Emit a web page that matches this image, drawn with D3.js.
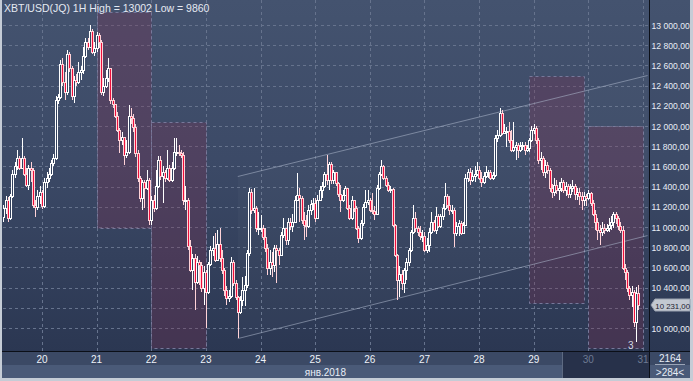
<!DOCTYPE html>
<html><head><meta charset="utf-8">
<script src="https://cdn.jsdelivr.net/npm/d3@7"></script>
<style>html,body{margin:0;padding:0;background:#c5ccd6;overflow:hidden}svg{display:block}</style>
</head><body>
<svg id="c" width="693" height="381"></svg>
<script>
// ---------- DATA ----------
const titleText = "XBT/USD(JQ) 1H High = 13002 Low = 9860";
const firstBarTime = Date.UTC(2018, 0, 19, 7);   // hourly bars
const firstOpen = 11102;
const closes = [
11191,11270,11092,11310,11527,11607,11686,11587,11686,11527,
11419,11587,11567,11220,11201,11310,11349,11211,11448,11488,
11527,11636,11686,12260,12290,12616,12438,12339,12715,12577,
12300,12458,12438,12537,12557,12696,12834,12785,12943,12735,
12775,12903,12834,12339,12399,12478,12577,12260,12220,12102,
11963,11864,11894,11716,11745,12102,12082,11993,11735,11488,
11290,11448,11389,11468,11072,11270,11191,11409,11666,11508,
11547,11488,11587,11468,11587,11745,11745,11735,11716,11270,
11270,10815,10577,10696,10458,10656,10627,10399,10557,10359,
10636,10775,10795,10676,10834,10696,10577,10379,10300,10320,
10656,10448,10310,10161,10280,10379,10429,10745,11349,11171,
11191,10993,10993,10993,10904,10795,10597,10656,10627,10795,
10775,10726,10924,10993,10874,11052,11013,11052,11270,11320,
11290,11072,11023,11013,11171,11230,11240,11092,11270,11369,
11409,11527,11468,11626,11468,11547,11438,11329,11270,11320,
11389,11191,11092,11270,11191,10993,10894,11042,11201,11250,
11270,11171,11161,11131,11389,11527,11607,11488,11419,11369,
11379,11023,10726,10478,10537,10448,10577,10656,10775,10953,
11092,10993,10953,10914,10914,10775,10825,10953,11052,10973,
11112,11013,11112,11191,11310,11220,11171,11171,10943,11013,
11042,10943,11023,11488,11547,11468,11508,11527,11567,11488,
11448,11508,11547,11547,11488,11518,11884,11914,12131,11933,
11953,11953,11864,11765,11795,11815,11765,11805,11815,11765,
11785,11864,11963,11983,11864,11666,11686,11547,11617,11567,
11389,11349,11419,11369,11389,11448,11369,11409,11329,11389,
11409,11329,11349,11310,11270,11310,11290,11339,11240,11131,
11052,10973,10953,10993,10973,10993,11023,11052,11131,11092,
11013,10973,10597,10557,10399,10330,10359,10062,10349,10231];
const highs = [
11220,11310,11300,11329,11567,11646,11765,11706,11884,11706,
11587,11617,11646,11587,11270,11369,11409,11369,11488,11547,
11587,11666,11725,12300,12319,12656,12676,12537,12755,12735,
12597,12498,12517,12636,12597,12785,12874,12874,13002,12963,
12834,12933,12923,12854,12478,12557,12676,12379,12280,12220,
12141,11983,11943,11884,11864,12210,12181,12121,12022,11765,
11508,11468,11468,11567,11488,11310,11320,11567,11706,11706,
11607,11567,11765,11617,11646,11884,11884,11815,11765,11745,
11409,11290,10874,10735,10735,10716,10676,10656,10617,10577,
10656,10815,10914,10943,10973,10993,10775,10597,10419,10379,
10706,10676,10478,10320,10320,10508,10518,10775,11389,11379,
11389,11211,11151,11122,11023,10993,10834,10775,10755,10825,
10825,10795,10953,11092,10993,11092,11092,11131,11310,11537,
11389,11310,11151,11122,11220,11270,11290,11290,11320,11409,
11448,11547,11716,11646,11646,11567,11547,11448,11419,11369,
11409,11389,11220,11310,11250,11211,11013,11072,11230,11369,
11369,11290,11339,11211,11419,11547,11666,11617,11508,11448,
11409,11389,11032,10735,10617,10577,10597,10696,10795,10973,
11220,11151,11013,11013,10973,10953,10894,10993,11151,11072,
11201,11131,11131,11230,11438,11329,11310,11220,11191,11052,
11072,11062,11052,11527,11577,11587,11567,11607,11646,11607,
11547,11547,11607,11567,11567,11547,11914,11963,12181,12161,
12022,11993,12042,11963,12042,11844,11834,11844,11844,11844,
11815,11884,12003,12022,12003,11884,11745,11706,11666,11646,
11587,11428,11488,11468,11448,11488,11468,11448,11428,11428,
11468,11428,11389,11389,11349,11349,11329,11369,11349,11270,
11171,11092,11023,11052,11032,11032,11092,11112,11151,11151,
11112,11052,11013,10636,10577,10419,10419,10379,10409,10429];
const lows = [
11052,11131,11052,11072,11290,11488,11567,11567,11577,11508,
11399,11369,11448,11191,11102,11171,11230,11181,11191,11389,
11448,11508,11607,11666,12220,12270,12399,12260,12310,12537,
12260,12230,12399,12418,12458,12517,12676,12755,12775,12715,
12696,12735,12775,12310,12300,12379,12438,12220,12181,12082,
11943,11735,11815,11617,11686,11725,12022,11943,11696,11448,
11250,11171,11191,11369,11023,11023,11151,11171,11389,11468,
11240,11448,11468,11448,11448,11567,11706,11706,11686,11220,
11171,10775,10557,10379,10181,10438,10429,10359,10230,10003,
10339,10617,10716,10656,10716,10656,10537,10320,10230,10260,
10300,10419,10280,9904,10141,10221,10221,10399,10716,11131,
11141,10953,10924,10953,10874,10755,10528,10528,10508,10557,
10448,10627,10716,10894,10825,10825,10973,10953,11052,11270,
11052,11032,10874,10904,10993,11122,11171,11052,11092,11270,
11290,11389,11419,11369,11428,11428,11409,11300,11151,11250,
11310,11171,11072,11072,11151,10973,10844,10874,11013,11211,
11220,11151,11131,11072,11122,11369,11508,11468,11399,11349,
11339,11003,10706,10280,10310,10379,10349,10478,10617,10755,
10933,10953,10914,10874,10854,10755,10745,10755,10933,10953,
10933,10993,10993,11072,11171,11191,11122,11131,10805,10914,
10914,10924,10933,11013,11448,11419,11448,11448,11508,11468,
11399,11428,11488,11488,11468,11468,11498,11844,11894,11914,
11923,11795,11834,11745,11745,11666,11686,11745,11765,11716,
11745,11745,11844,11923,11824,11626,11567,11508,11488,11527,
11349,11290,11310,11329,11270,11349,11339,11310,11290,11290,
11349,11270,11270,11220,11171,11211,11211,11270,11211,11112,
10973,10874,10825,10914,10933,10953,10953,10973,10993,11032,
10973,10943,10577,10478,10359,10280,10211,10013,9860,10181];
const opens = [firstOpen].concat(closes.slice(0, -1));

const dayTicks = [20,21,22,23,24,25,26,27,28,29,30,31];
const priceTicks = [10000,10200,10400,10600,10800,11000,11200,11400,11600,11800,12000,12200,12400,12600,12800,13000];
const monthLabel = "янв.2018";

// highlighted zones
const zoneStart = ["2018-01-21T00:00Z","2018-01-22T00:00Z","2018-01-28T22:00Z","2018-01-30T00:00Z"];
const zoneEnd   = ["2018-01-22T00:00Z","2018-01-23T00:00Z","2018-01-29T22:00Z","2018-01-31T00:00Z"];
const zoneHigh  = [13130,12040,12500,12000];
const zoneLow   = [10990,9800,10250,9800];

// trend channel
const channelTime  = ["2018-01-23T14:00Z","2018-01-31T02:00Z"];
const channelUpper = [11500,12500];
const channelLower = [9895,10915];

const lastPrice = 10231;
const barsTotal = "2164";
const barsVisible = ">284<";
const cornerMark = "3";

// ---------- DRAW ----------
const svg = d3.select("#c");
const FONT = "'Liberation Sans', Arial, sans-serif";
const L = 3, R = 649, T = 0, B = 351, RR = 690, BB = 378;

const x = d3.scaleUtc().domain([new Date(Date.UTC(2018,0,20)), new Date(Date.UTC(2018,0,31))]).range([42, 643]);
const y = d3.scaleLinear().domain([10000, 13000]).range([328, 25]);
const tOf = i => new Date(firstBarTime + i * 3600000);
const px = i => Math.round(x(tOf(i)));
const fmt = v => d3.format(",.2f")(v).replace(/,/g, " ").replace(".", ",");

const defs = svg.append("defs");
const g = defs.append("linearGradient").attr("id","bg").attr("gradientUnits","userSpaceOnUse")
  .attr("x1",0).attr("y1",0).attr("x2",0).attr("y2",B);
[[0,"#44536f"],[0.45,"#3c4a67"],[1,"#2b3752"]].forEach(s=>g.append("stop").attr("offset",s[0]).attr("stop-color",s[1]));
defs.append("clipPath").attr("id","pc").append("rect").attr("x",L).attr("y",T).attr("width",R-L).attr("height",B-T);

// frame & panels
svg.append("rect").attr("width",693).attr("height",381).attr("fill","#c5ccd6");
svg.append("rect").attr("x",2).attr("y",0).attr("width",RR-2).attr("height",B).attr("fill","url(#bg)");
svg.append("rect").attr("x",2).attr("y",B).attr("width",RR-2).attr("height",14).attr("fill","#3b4965");
svg.append("rect").attr("x",2).attr("y",B+14).attr("width",RR-2).attr("height",BB-B-14).attr("fill","#4a5a78");
svg.append("rect").attr("x",562).attr("y",B).attr("width",R-562).attr("height",BB-B).attr("fill","#27314a");
svg.append("line").attr("x1",562.5).attr("x2",562.5).attr("y1",B).attr("y2",BB).attr("stroke","#5d6a82");

const plot = svg.append("g").attr("clip-path","url(#pc)");

// grid
plot.selectAll(".hg").data(priceTicks).join("line")
  .attr("x1",L).attr("x2",R).attr("y1",d=>Math.round(y(d))+0.5).attr("y2",d=>Math.round(y(d))+0.5)
  .attr("stroke","#66738d").attr("stroke-dasharray","3,3");
plot.selectAll(".vg").data(dayTicks).join("line")
  .attr("y1",T).attr("y2",B).attr("x1",d=>Math.round(x(new Date(Date.UTC(2018,0,d))))+0.5)
  .attr("x2",d=>Math.round(x(new Date(Date.UTC(2018,0,d))))+0.5)
  .attr("stroke","#66738d").attr("stroke-dasharray","3,3");

// zones
plot.selectAll(".zone").data(zoneStart.map((s,i)=>i)).join("rect")
  .attr("x",i=>Math.round(x(new Date(zoneStart[i])))+0.5)
  .attr("width",i=>Math.round(x(new Date(zoneEnd[i])))-Math.round(x(new Date(zoneStart[i]))))
  .attr("y",i=>Math.round(y(zoneHigh[i]))+0.5)
  .attr("height",i=>Math.round(y(zoneLow[i]))-Math.round(y(zoneHigh[i])))
  .attr("fill","rgba(125,45,80,0.3)").attr("stroke","#77789a").attr("stroke-dasharray","3,3");

// channel
const cx0 = x(new Date(channelTime[0])), cx1 = x(new Date(channelTime[1]));
plot.append("path")
  .attr("d",`M${cx0},${y(channelUpper[0])}L${cx1},${y(channelUpper[1])}L${cx1},${y(channelLower[1])}L${cx0},${y(channelLower[0])}Z`)
  .attr("fill","rgba(255,255,255,0.025)");
[channelUpper, channelLower].forEach(c=>{
  plot.append("line").attr("x1",cx0).attr("y1",y(c[0])).attr("x2",cx1).attr("y2",y(c[1]))
    .attr("stroke","rgba(175,185,205,0.55)").attr("stroke-width",1);
});

// candles (snapped to the pixel grid)
const idx = d3.range(closes.length);
const up = i => closes[i] >= opens[i];
const cg = plot.append("g");
cg.selectAll(".wick").data(idx).join("line")
  .attr("x1",i=>px(i)+0.5).attr("x2",i=>px(i)+0.5)
  .attr("y1",i=>Math.round(y(Math.max(highs[i],opens[i],closes[i]))))
  .attr("y2",i=>Math.round(y(Math.min(lows[i],opens[i],closes[i]))))
  .attr("stroke",i=>up(i)?"#ffffff":"#ffd3d8").attr("stroke-width",1);
cg.selectAll(".body").data(idx).join("rect")
  .attr("x",i=>px(i)-0.5).attr("width",2)
  .attr("y",i=>Math.round(y(Math.max(opens[i],closes[i])))+0.5)
  .attr("height",i=>Math.max(1,Math.round(Math.abs(y(opens[i])-y(closes[i])))))
  .attr("fill",i=>up(i)?"#33415d":"#ee0f3c")
  .attr("stroke",i=>up(i)?"#ffffff":"#ffd3d8").attr("stroke-width",1);

// separators
svg.append("line").attr("x1",2).attr("x2",RR).attr("y1",B+0.5).attr("y2",B+0.5).attr("stroke","#0b0f18");
svg.append("line").attr("x1",R+0.5).attr("x2",R+0.5).attr("y1",0).attr("y2",BB).attr("stroke","#0b0f18");

// title
svg.append("text").attr("x",4).attr("y",12).text(titleText)
  .attr("font-family",FONT).attr("font-size",10.5).attr("fill","#e4e9f2");

// price axis (labels sized to fit the narrow column)
const ax = svg.append("g");
ax.selectAll("text").data(priceTicks.filter(v=>Math.abs(v-lastPrice)>60)).join("text")
  .attr("x",651.5).attr("y",d=>y(d)+3.5).text(fmt)
  .attr("font-family",FONT).attr("font-size",8.6).attr("fill","#e8edf6");
const ty = Math.round(y(lastPrice));
ax.append("path").attr("d",`M651,${ty}L655,${ty-6}L${RR},${ty-6}L${RR},${ty+6}L655,${ty+6}Z`)
  .attr("fill","#c3c8d1").attr("stroke","#9aa2b0");
ax.append("text").attr("x",655.3).attr("y",ty+3.5).text(fmt(lastPrice))
  .attr("font-family",FONT).attr("font-size",7.8).attr("fill","#1b2230");

// time axis
svg.selectAll(".dl").data(dayTicks).join("text")
  .attr("x",d=>x(new Date(Date.UTC(2018,0,d)))).attr("y",363).attr("text-anchor","middle")
  .text(d=>d).attr("font-family",FONT).attr("font-size",10)
  .attr("fill",d=>d>=30?"#6d7a92":"#eef2f8");
svg.append("text").attr("x",346).attr("y",375.5).attr("text-anchor","end").text(monthLabel)
  .attr("font-family",FONT).attr("font-size",10).attr("fill","#e8edf6");

// corner box
svg.append("text").attr("x",670).attr("y",362).attr("text-anchor","middle").text(barsTotal)
  .attr("font-family",FONT).attr("font-size",10).attr("fill","#e8edf6");
svg.append("line").attr("x1",655).attr("x2",685).attr("y1",364.5).attr("y2",364.5).attr("stroke","#9aa4b6");
svg.append("text").attr("x",670).attr("y",375.5).attr("text-anchor","middle").text(barsVisible)
  .attr("font-family",FONT).attr("font-size",10).attr("fill","#e8edf6");
svg.append("text").attr("x",628).attr("y",349).text(cornerMark)
  .attr("font-family",FONT).attr("font-size",10).attr("fill","#d3d9e4");
</script>
</body></html>
